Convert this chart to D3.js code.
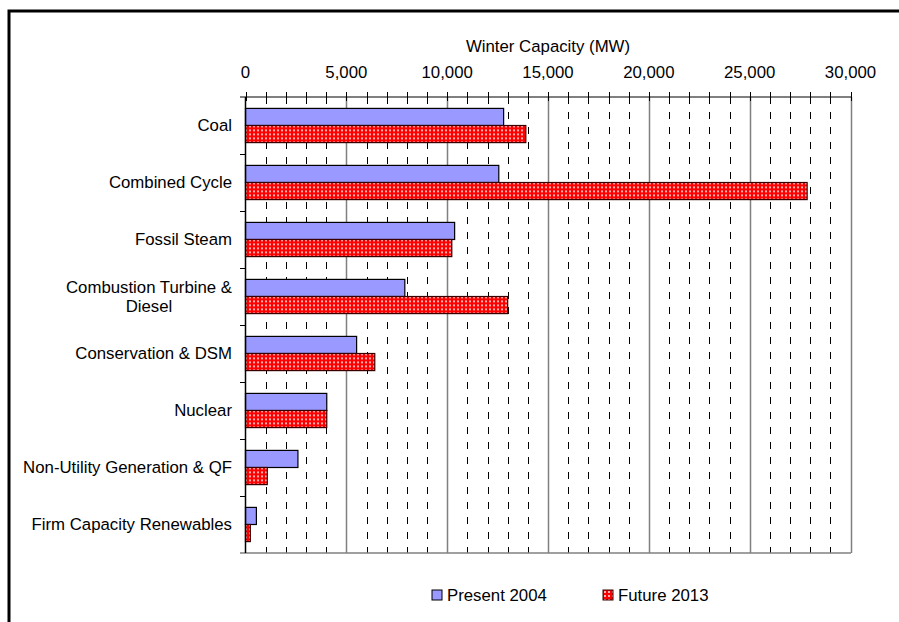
<!DOCTYPE html>
<html>
<head>
<meta charset="utf-8">
<script src="https://cdn.jsdelivr.net/npm/d3@7"></script>
<style>
  html, body { margin: 0; padding: 0; background: #fff; }
  svg { display: block; font-family: "Liberation Sans", Arial, sans-serif; }
</style>
</head>
<body>
<svg id="chart" width="899" height="622"></svg>
<script>
(function () {
  "use strict";

  // data (MW)
  var categories = ["Coal", "Combined Cycle", "Fossil Steam", "Combustion Turbine &\nDiesel",
    "Conservation & DSM", "Nuclear", "Non-Utility Generation & QF", "Firm Capacity Renewables"];
  var present2004 = [12800, 12560, 10370, 7900, 5510, 4030, 2600, 540];
  var future2013  = [13900, 27850, 10230, 13000, 6410, 4030, 1080, 240];
  var seriesNames = ["Present 2004", "Future 2013"];
  var majorTicks = [0, 5000, 10000, 15000, 20000, 25000, 30000];
  var minorTicks = d3.range(1000, 30000, 1000).filter(function (v) { return v % 5000 !== 0; });

  var FS = 16.8;
  var left = 245.5, right = 850.5, top = 97, bottom = 553;

  var svg = d3.select("#chart");
  var defs = svg.append("defs");
  var pat = defs.append("pattern").attr("id", "dots").attr("patternUnits", "userSpaceOnUse")
    .attr("width", 4).attr("height", 4);
  pat.append("rect").attr("width", 4).attr("height", 4).attr("fill", "#ff0000");
  pat.append("rect").attr("x", 1).attr("y", 1).attr("width", 2).attr("height", 2).attr("fill", "#ffb0b0");

  // outer frame (only left + top visible)
  svg.append("rect").attr("x", 9).attr("y", 11).attr("width", 1200).attr("height", 1200)
    .attr("fill", "none").attr("stroke", "#000").attr("stroke-width", 3);

  var x = d3.scaleLinear().domain([0, 30000]).range([left, right]);
  var y = d3.scaleBand().domain(categories).range([top, bottom]).paddingInner(0.4).paddingOuter(0.2);
  var ys = d3.scaleBand().domain(seriesNames).range([0, y.bandwidth()]);

  // minor dashed grid
  svg.append("g").selectAll("line").data(minorTicks).enter().append("line")
    .attr("x1", function (d) { return Math.round(x(d)) + 0.5; })
    .attr("x2", function (d) { return Math.round(x(d)) + 0.5; })
    .attr("y1", top).attr("y2", bottom)
    .attr("stroke", "#000").attr("stroke-width", 1).attr("stroke-dasharray", "7,8");
  // major grid
  svg.append("g").selectAll("line").data(majorTicks.slice(1)).enter().append("line")
    .attr("x1", function (d) { return Math.round(x(d)) + 0.5; })
    .attr("x2", function (d) { return Math.round(x(d)) + 0.5; })
    .attr("y1", top).attr("y2", bottom)
    .attr("stroke", "#808080").attr("stroke-width", 1.5);
  // bottom line
  svg.append("line").attr("x1", 240).attr("x2", right + 0.5).attr("y1", bottom).attr("y2", bottom)
    .attr("stroke", "#808080").attr("stroke-width", 1.5);

  // bars
  var rows = categories.map(function (c, i) { return { cat: c, vals: [present2004[i], future2013[i]] }; });
  var grp = svg.append("g").selectAll("g").data(rows).enter().append("g")
    .attr("transform", function (d) { return "translate(0," + y(d.cat) + ")"; });
  grp.selectAll("rect").data(function (d) {
    return d.vals.map(function (v, k) { return { s: seriesNames[k], v: v }; });
  }).enter().append("rect")
    .attr("x", x(0))
    .attr("y", function (d) { return ys(d.s); })
    .attr("width", function (d) { return x(d.v) - x(0); })
    .attr("height", ys.bandwidth())
    .attr("fill", function (d) { return d.s === seriesNames[0] ? "#9999ff" : "url(#dots)"; })
    .attr("stroke", function (d) { return d.s === seriesNames[0] ? "#000" : "#3a0000"; })
    .attr("stroke-width", 1.2);

  // top axis
  var ax = svg.append("g").attr("transform", "translate(0," + top + ")");
  ax.append("line").attr("x1", 240).attr("x2", right + 0.5).attr("y1", 0).attr("y2", 0)
    .attr("stroke", "#000").attr("stroke-width", 1);
  ax.selectAll("line.tk").data(d3.range(0, 30001, 1000)).enter().append("line").attr("class", "tk")
    .attr("x1", function (d) { return Math.round(x(d)) + 0.5; })
    .attr("x2", function (d) { return Math.round(x(d)) + 0.5; })
    .attr("y1", -5).attr("y2", 4).attr("stroke", "#000");
  ax.selectAll("text").data(majorTicks).enter().append("text")
    .attr("x", function (d) { return x(d); }).attr("y", -19)
    .attr("text-anchor", "middle").attr("font-size", FS).attr("fill", "#000")
    .text(d3.format(","));
  svg.append("text").attr("x", (left + right) / 2).attr("y", 52)
    .attr("text-anchor", "middle").attr("font-size", FS).text("Winter Capacity (MW)");

  // left axis
  svg.append("line").attr("x1", left).attr("x2", left).attr("y1", top).attr("y2", bottom)
    .attr("stroke", "#000").attr("stroke-width", 1.5);
  var bounds = categories.map(function (c) { return y(c) - y.step() * y.paddingOuter(); }).slice(1);
  svg.append("g").selectAll("line").data(bounds).enter().append("line")
    .attr("x1", 240).attr("x2", left).attr("y1", function (d) { return Math.round(d) + 0.5; })
    .attr("y2", function (d) { return Math.round(d) + 0.5; }).attr("stroke", "#000");

  // category labels
  svg.append("g").selectAll("text").data(categories).enter().append("text")
    .attr("font-size", FS).attr("fill", "#000")
    .each(function (c) {
      var t = d3.select(this), lines = c.split("\n");
      var cy = y(c) + y.bandwidth() / 2;
      if (lines.length === 1) {
        t.attr("x", 232).attr("y", cy).attr("dy", "0.35em").attr("text-anchor", "end").text(c);
      } else {
        t.attr("text-anchor", "middle");
        lines.forEach(function (ln, k) {
          t.append("tspan").attr("x", 149).attr("y", cy + (k - (lines.length - 1) / 2) * 19)
            .attr("dy", "0.35em").text(ln);
        });
      }
    });

  // legend
  var legX = [432, 603];
  var leg = svg.append("g").selectAll("g").data(seriesNames).enter().append("g")
    .attr("transform", function (d, i) { return "translate(" + legX[i] + ",590)"; });
  leg.append("rect").attr("width", 10).attr("height", 10)
    .attr("fill", function (d, i) { return i === 0 ? "#9999ff" : "url(#dots)"; })
    .attr("stroke", function (d, i) { return i === 0 ? "#000" : "#3a0000"; });
  leg.append("text").attr("x", 15).attr("y", 5).attr("dy", "0.35em")
    .attr("font-size", FS).text(function (d) { return d; });
})();
</script>
</body>
</html>
